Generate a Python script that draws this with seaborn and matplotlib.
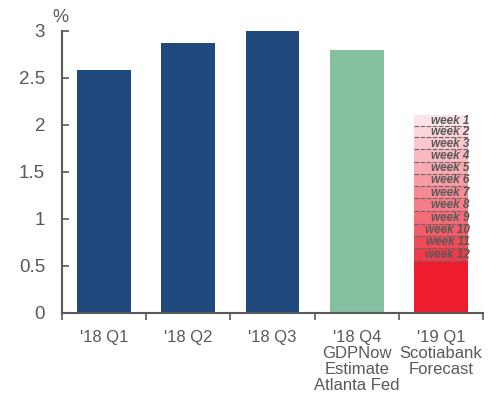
import numpy as np
import pandas as pd
import seaborn as sns
import matplotlib
matplotlib.use('Agg')
import matplotlib.pyplot as plt

# data
quarters = ["'18 Q1", "'18 Q2", "'18 Q3", "'18 Q4\nGDPNow\nEstimate\nAtlanta Fed", "'19 Q1\nScotiabank\nForecast"]
growth = [2.58, 2.87, 3.0, 2.8, 0.55]
bar_colors = ['#1F497D', '#1F497D', '#1F497D', '#84C1A0', '#ED1C2E']

# weekly increments stacked on the '19 Q1 base, bottom (week 12) to top (week 1)
week_labels = ['week 12', 'week 11', 'week 10', 'week 9', 'week 8', 'week 7',
               'week 6', 'week 5', 'week 4', 'week 3', 'week 2', 'week 1']
week_steps = [0.14, 0.13, 0.13, 0.13, 0.14, 0.13, 0.13, 0.13, 0.13, 0.13, 0.12, 0.12]
week_colors = ['#EF3A4A', '#F04B59', '#F25C69', '#F36C78', '#F57C87', '#F68B95',
               '#F89BA4', '#F9AAB2', '#FAB9BF', '#FBC7CC', '#FCD5D9', '#FDE3E6']

grey = '#595959'
plt.rcParams['font.family'] = ['Liberation Sans', 'DejaVu Sans']

df = pd.DataFrame({'quarter': quarters, 'growth': growth})

fig = plt.figure(figsize=(4.95, 3.96), dpi=100)
ax = fig.add_axes([0.125, 0.21, 0.851, 0.712])

sns.barplot(data=df, x='quarter', y='growth', hue='quarter', palette=bar_colors,
            width=0.64, saturation=1, legend=False, ax=ax)

# stacked weekly segments
xpos = len(quarters) - 1
bottom = growth[-1]
for lab, step, col in zip(week_labels, week_steps, week_colors):
    ax.bar(xpos, step, bottom=bottom, width=0.64, color=col, linewidth=0)
    ax.plot([xpos - 0.32, xpos + 0.32], [bottom, bottom], color='#666666',
            lw=0.8, ls=(0, (4, 1.5)))
    ax.text(xpos + 0.34, bottom + step / 2 - 0.005, lab, ha='right', va='center',
            fontsize=8.5, fontstyle='italic', fontweight='bold', color=grey)
    bottom += step

ax.set_ylim(0, 3)
ax.set_xlim(-0.5, len(quarters) - 0.5)
ax.set_yticks([0, 0.5, 1, 1.5, 2, 2.5, 3])
ax.set_yticklabels(['0', '0.5', '1', '1.5', '2', '2.5', '3'])
ax.set_xlabel('')
ax.set_ylabel('')
for t in ax.get_xticklabels():
    t.set_linespacing(1.1)

for s in ['top', 'right']:
    ax.spines[s].set_visible(False)
for s in ['left', 'bottom']:
    ax.spines[s].set_color(grey)
    ax.spines[s].set_linewidth(1.5)

ax.tick_params(axis='y', direction='in', length=5, width=1.2, color=grey,
               labelsize=13.5, labelcolor=grey, pad=12)
ax.tick_params(axis='x', which='major', length=0, labelsize=12, labelcolor=grey, pad=12)
ax.set_xticks(np.arange(-0.5, len(quarters)), minor=True)
ax.tick_params(axis='x', which='minor', direction='out', length=5, width=1.2, color=grey)

fig.text(0.121, 0.935, '%', fontsize=13, color=grey, ha='center', va='bottom')

plt.savefig('out.png', dpi=100)
